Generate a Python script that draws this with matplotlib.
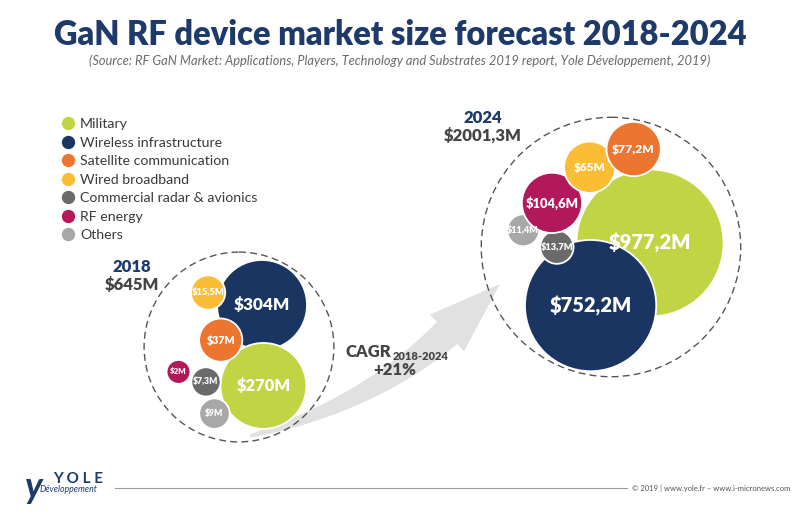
import numpy as np
import matplotlib
matplotlib.use("Agg")
import matplotlib.pyplot as plt
from matplotlib.patches import Circle, Polygon
from matplotlib.lines import Line2D

# ------------------------------------------------------------------ data
categories = ["Military", "Wireless infrastructure", "Satellite communication",
              "Wired broadband", "Commercial radar & avionics", "RF energy", "Others"]
values_2018 = [270, 304, 37, 15.5, 7.3, 2, 9]
values_2024 = [977.2, 752.2, 77.2, 65, 13.7, 104.6, 11.4]
years = ["2018", "2024"]
totals = [645, 2001.3]
cagr_pct = 21
cagr_period = "2018-2024"
title = "GaN RF device market size forecast 2018-2024"
subtitle = ("(Source: RF GaN Market: Applications, Players, Technology and Substrates "
            "2019 report, Yole Développement, 2019)")
footer = "© 2019 | www.yole.fr – www.i-micronews.com"

# ------------------------------------------------------------------ style
colors = ["#c1d444", "#1b3563", "#ec7530", "#fbbd35", "#6a6a6a", "#b2195a", "#a8a8a8"]
NAVY = "#1d3a6b"
DARK = "#454545"
FONT = ["Lato", "DejaVu Sans"]

# bubble scale (pixels): radius grows with sqrt(value), offset keeps small bubbles legible
def bubble_r(v):
    return 9.05 + 2.063 * np.sqrt(v)

# layout: (category index, anchor index or None, angle deg, distance factor)
layout_2018 = dict(origin=(262, 305), steps=[
    (1, None, 0, 0), (0, 1, -89, 0.92), (3, 1, 167, 0.89), (2, 0, 133, 0.97),
    (4, 0, 176, 1.0), (5, 4, 160, 1.1), (6, 4, -75, 1.1)],
    ring=(239, 347), label=(132, 267))
layout_2024 = dict(origin=(650, 243), steps=[
    (0, None, 0, 0), (1, 0, -133.5, 0.62), (4, 1, 120, 0.82), (6, 4, 153.4, 1.15),
    (5, 4, 96.3, 0.95), (3, 5, 43.4, 0.93), (2, 3, 22.5, 0.9)],
    ring=(611, 247), label=(483, 118))

fig = plt.figure(figsize=(8, 5.17), dpi=100)
ax = fig.add_axes([0, 0, 1, 1])
ax.set_xlim(0, 800)
ax.set_ylim(517, 0)
ax.axis("off")

# ------------------------------------------------------------------ CAGR arrow
B = np.array([447.0, 333.0])
T = np.array([500.0, 284.0])
d = (T - B) / np.linalg.norm(T - B)
P0 = np.array([250.0, 436.0])
P1 = B - 105 * d
P2 = B
t = np.linspace(0, 1, 80)[:, None]
C = (1 - t) ** 2 * P0 + 2 * (1 - t) * t * P1 + t ** 2 * P2
D = 2 * (1 - t) * (P1 - P0) + 2 * t * (P2 - P1)
N = np.column_stack([-D[:, 1], D[:, 0]]) / np.linalg.norm(D, axis=1)[:, None]
w = (3 + 27 * t[:, 0] ** 0.85)[:, None] / 2
upper = C + N * w
lower = C - N * w
n_end = np.array([-d[1], d[0]])
head = [B + n_end * 25, T, B - n_end * 25]
poly = np.vstack([upper, head, lower[::-1]])
ax.add_patch(Polygon(poly, closed=True, facecolor="#e1e1e1", edgecolor="none", zorder=1))

# ------------------------------------------------------------------ bubbles
def fmt(v):
    return ("$%g" % v).replace(".", ",") + "M"

def draw_group(values, lay, total, year):
    centers = {}
    radii = {i: bubble_r(v) for i, v in enumerate(values)}
    for (idx, anc, ang, f) in lay["steps"]:
        if anc is None:
            c = np.array(lay["origin"], float)
        else:
            dist = (radii[anc] + radii[idx]) * f
            a = np.deg2rad(ang)
            c = centers[anc] + dist * np.array([np.cos(a), -np.sin(a)])
        centers[idx] = c
        r = radii[idx]
        ax.add_patch(Circle(c, r, facecolor=colors[idx], edgecolor="white",
                            linewidth=1.3, zorder=3))
        fs = float(np.clip(0.2 * r + 3.3, 5, 14.5))
        ax.text(c[0], c[1], fmt(values[idx]), color="white", fontsize=fs,
                fontweight="heavy", family=FONT, ha="center", va="center", zorder=4)
    ring = np.array(lay["ring"], float)
    R = max(np.linalg.norm(centers[i] - ring) + radii[i] for i in centers) + 2
    ax.add_patch(Circle(ring, R, facecolor="none", edgecolor="#555555",
                        linewidth=1.0, linestyle=(0, (5, 3)), zorder=2))
    lx, ly = lay["label"]
    ax.text(lx, ly, year, color=NAVY, fontsize=12, fontweight="heavy", family=FONT,
            ha="center", va="center")
    ax.text(lx, ly + 18, fmt(total), color=DARK, fontsize=12, fontweight="heavy",
            family=FONT, ha="center", va="center")

draw_group(values_2018, layout_2018, totals[0], years[0])
draw_group(values_2024, layout_2024, totals[1], years[1])

# ------------------------------------------------------------------ CAGR text
ax.text(345, 352, "CAGR", color=DARK, fontsize=12, fontweight="heavy", family=FONT,
        ha="left", va="center")
ax.text(393, 357, cagr_period, color=DARK, fontsize=8, fontweight="heavy", family=FONT,
        ha="left", va="center")
ax.text(395, 370, "+%d%%" % cagr_pct, color=DARK, fontsize=12, fontweight="heavy",
        family=FONT, ha="center", va="center")

# ------------------------------------------------------------------ titles
ax.text(400, 35, title, color=NAVY, fontsize=23.5, fontweight="heavy", family=FONT,
        ha="center", va="center")
ax.text(400, 61, subtitle, color="#6a6a6a", fontsize=9.3, fontstyle="italic",
        fontweight="normal", family=FONT, ha="center", va="center")

# ------------------------------------------------------------------ legend
handles = [Line2D([], [], marker="o", linestyle="none", markersize=9.6,
                  markerfacecolor=c, markeredgecolor="none") for c in colors]
leg = ax.legend(handles, categories, loc="upper left",
                bbox_to_anchor=(61 / 800, 1 - 118 / 517), frameon=False,
                handlelength=1.0, handletextpad=0.35,
                labelspacing=0.46, borderpad=0, borderaxespad=0,
                labelcolor="#3a3a3a", prop={"family": FONT, "size": 10.2})

# ------------------------------------------------------------------ footer
ax.plot([115, 627], [488, 488], color="#9a9a9a", linewidth=0.8)
ax.text(632, 488, footer, color="#555555", fontsize=5.5, family=FONT,
        ha="left", va="center")
ax.text(53, 479, "Y O L E", color=NAVY, fontsize=11, fontweight="bold", family=FONT,
        ha="left", va="center")
ax.text(40, 490, "Développement", color=NAVY, fontsize=6.3, fontstyle="italic",
        family=FONT, ha="left", va="center")
ax.text(34, 488, "y", color=NAVY, fontsize=26, fontweight="bold", fontstyle="italic",
        family=FONT, ha="center", va="center")

fig.savefig("out.png", dpi=100)
